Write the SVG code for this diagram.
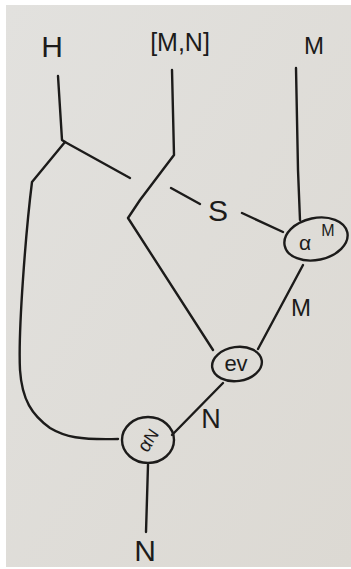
<svg xmlns="http://www.w3.org/2000/svg" width="351" height="569" viewBox="0 0 351 569">
  <style>
    .wire { fill: none; stroke: #1c1b1a; stroke-width: 2.4; stroke-linecap: round; stroke-linejoin: round; }
    .node { fill: none; stroke: #1c1b1a; stroke-width: 2.4; }
    .lbl { font-family: "Liberation Sans", "DejaVu Sans", sans-serif; fill: #1c1b1a; text-anchor: middle; }
  </style>
  <defs>
    <linearGradient id="paper" x1="0" y1="0" x2="1" y2="1">
      <stop offset="0" stop-color="#e2e1de"/>
      <stop offset="1" stop-color="#dcd9d3"/>
    </linearGradient>
  </defs>
  <rect x="0" y="0" width="351" height="569" fill="#ffffff"/>
  <rect x="6" y="5" width="345" height="562" fill="url(#paper)"/>

  <!-- wires -->
  <g id="connectors">
    <!-- H wire, splitting into two branches -->
    <path class="wire" d="M58 76 L62 140 L65 142"/>
    <path class="wire" d="M65 142 L32 182 C26 230 18 330 20 370 C22 400 32 415 50 428 C65 437 80 440 118 439"/>
    <path class="wire" d="M65 142 L130 178"/>
    <!-- [M,N] wire bending down to ev -->
    <path class="wire" d="M172 70 L174 155 L140 200 L128 218 L213 350"/>
    <!-- S wire into alpha^M -->
    <path class="wire" d="M171 188 L200 204"/>
    <path class="wire" d="M242 213 L283 232"/>
    <!-- M wire into alpha^M -->
    <path class="wire" d="M296 68 L298 170 L300 220"/>
    <!-- alpha^M to ev -->
    <path class="wire" d="M303 265 L258 349"/>
    <!-- ev to alpha^N -->
    <path class="wire" d="M223 383 L172 435"/>
    <!-- alpha^N output -->
    <path class="wire" d="M148 465 L146 532"/>
  </g>

  <!-- labels on wires -->
  <g id="labels">
    <text class="lbl" x="52" y="57" font-size="30">H</text>
    <text class="lbl" x="180" y="51" font-size="25">[M,N]</text>
    <text class="lbl" x="314" y="54" font-size="24">M</text>
    <text class="lbl" x="218" y="221" font-size="30">S</text>
    <text class="lbl" x="301" y="316" font-size="24">M</text>
    <text class="lbl" x="211" y="428" font-size="27">N</text>
    <text class="lbl" x="145" y="561" font-size="30">N</text>
  </g>

  <g id="alphaM">
    <ellipse class="node" cx="316" cy="239" rx="32" ry="21" transform="rotate(-12 316 239)"/>
    <text class="lbl" x="305" y="250" font-size="21">α</text>
    <text class="lbl" x="328" y="236" font-size="16">M</text>
  </g>

  <g id="ev">
    <ellipse class="node" cx="237" cy="364" rx="25" ry="17" transform="rotate(-8 237 364)"/>
    <text class="lbl" x="236" y="371" font-size="22">ev</text>
  </g>

  <g id="alphaN">
    <ellipse class="node" cx="148" cy="440" rx="26" ry="23"/>
    <text class="lbl" x="148" y="447" font-size="19" transform="rotate(-55 148 440)">α<tspan font-size="17" dy="-1">N</tspan></text>
  </g>
</svg>
